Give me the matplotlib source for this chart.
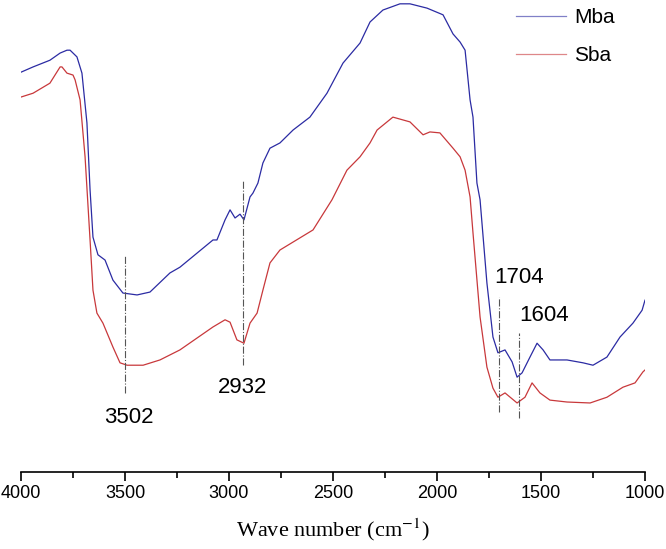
import matplotlib
matplotlib.use('Agg')
import matplotlib.pyplot as plt

plt.rcParams['mathtext.fontset'] = 'stix'

# wavenumbers (cm-1) and transmittance-like values
mba_wn = [4000, 3942, 3861, 3812, 3779, 3764, 3731, 3707, 3683, 3668, 3654, 3630,
          3596, 3558, 3510, 3442, 3380, 3284, 3236, 3077, 3058, 3019, 2995, 2971,
          2947, 2928, 2899, 2885, 2861, 2837, 2803, 2755, 2692, 2611, 2529, 2452,
          2370, 2322, 2260, 2178, 2130, 2048, 1971, 1923, 1889, 1865, 1841, 1827,
          1808, 1793, 1760, 1731, 1707, 1673, 1639, 1615, 1591, 1553, 1519, 1490,
          1457, 1375, 1298, 1250, 1183, 1120, 1058, 1014, 1000]
mba_val = [84.9, 86.0, 87.4, 88.9, 89.5, 89.5, 88.1, 84.7, 74.3, 60.3, 50.4, 46.7,
           45.6, 41.4, 38.7, 38.3, 38.9, 42.9, 44.1, 49.8, 49.8, 54.0, 56.1, 54.4,
           55.2, 54.0, 58.8, 59.6, 61.7, 65.9, 69.0, 70.1, 72.8, 75.5, 80.5, 86.8,
           91.0, 95.4, 97.9, 99.2, 99.2, 98.3, 96.9, 92.9, 91.2, 89.5, 79.1, 75.5,
           61.7, 58.2, 40.8, 29.5, 26.2, 26.8, 24.3, 21.1, 22.0, 25.3, 28.2, 26.8,
           24.7, 24.7, 24.1, 23.6, 25.3, 29.5, 32.4, 35.1, 37.2]

sba_wn = [4000, 3942, 3861, 3812, 3803, 3779, 3750, 3740, 3716, 3692, 3668, 3654,
          3635, 3606, 3558, 3524, 3490, 3413, 3332, 3236, 3077, 3019, 2995, 2962,
          2928, 2899, 2865, 2837, 2803, 2755, 2596, 2505, 2433, 2370, 2322, 2288,
          2212, 2130, 2067, 2034, 1986, 1923, 1889, 1865, 1841, 1827, 1793, 1760,
          1731, 1707, 1673, 1615, 1577, 1543, 1505, 1457, 1375, 1264, 1183, 1106,
          1048, 1010, 1000]
sba_val = [79.7, 80.5, 82.6, 86.0, 86.0, 84.7, 84.3, 83.3, 79.1, 67.2, 49.8, 39.3,
           34.5, 32.4, 27.4, 24.1, 23.6, 23.6, 24.7, 26.8, 31.6, 33.1, 32.6, 28.9,
           28.2, 32.4, 34.5, 39.3, 45.0, 47.7, 51.9, 58.2, 64.4, 67.2, 70.1, 72.8,
           75.5, 74.5, 71.8, 72.4, 72.2, 69.0, 67.2, 64.4, 58.8, 51.3, 33.7, 23.2,
           18.8, 16.9, 17.8, 15.7, 16.9, 19.9, 17.8, 16.3, 15.9, 15.7, 16.9, 19.0,
           19.9, 22.2, 22.6]

# marked peaks: position, line top, line bottom, label position
peaks = [3502, 2932, 1704, 1604]
peak_top = [46.4, 62.3, 37.9, 30.3]
peak_bottom = [17.8, 23.6, 13.8, 12.6]
label_x = [3482, 2935, 1607, 1486]
label_y = [12.6, 19.0, 42.0, 34.1]

fig = plt.figure(figsize=(6.66, 5.49), dpi=100)
ax = fig.add_axes([21 / 666, 77 / 549, 624 / 666, 472 / 549])

ax.plot(mba_wn, mba_val, color='#2b2ba3', lw=0.9, label='Mba')
ax.plot(sba_wn, sba_val, color='#c8383b', lw=0.9, label='Sba')

for p, t, b in zip(peaks, peak_top, peak_bottom):
    ax.plot([p, p], [b, t], color='#555555', lw=0.8, ls='-.')
for p, lx, ly in zip(peaks, label_x, label_y):
    ax.text(lx, ly, str(p), ha='center', va='center', fontsize=16,
            family='Liberation Sans')

ax.set_xlim(4000, 1000)
ax.set_ylim(1.26, 100)
ax.set_xticks([4000, 3500, 3000, 2500, 2000, 1500, 1000])
ax.set_xticks([3750, 3250, 2750, 2250, 1750, 1250], minor=True)
ax.tick_params(axis='x', which='major', direction='out', length=6.5, width=1.2,
               labelsize=13, pad=3)
ax.tick_params(axis='x', which='minor', direction='out', length=4, width=1.2)
for lab in ax.get_xticklabels():
    lab.set_family('Liberation Sans')
ax.set_yticks([])
for s in ['left', 'right', 'top']:
    ax.spines[s].set_visible(False)
ax.spines['bottom'].set_linewidth(1.2)

ax.set_xlabel('Wave number (cm$^{-1}$)', fontsize=16, family='Liberation Serif',
              labelpad=10)

leg = ax.legend(loc='upper left', bbox_to_anchor=(0.78, 1.0), frameon=False,
                fontsize=15, handlelength=2.4, handletextpad=0.4,
                labelspacing=0.9, borderaxespad=0.0)
for t in leg.get_texts():
    t.set_family('Liberation Sans')
for h in leg.get_lines():
    h.set_alpha(0.6)

fig.savefig('out.png', dpi=100)
